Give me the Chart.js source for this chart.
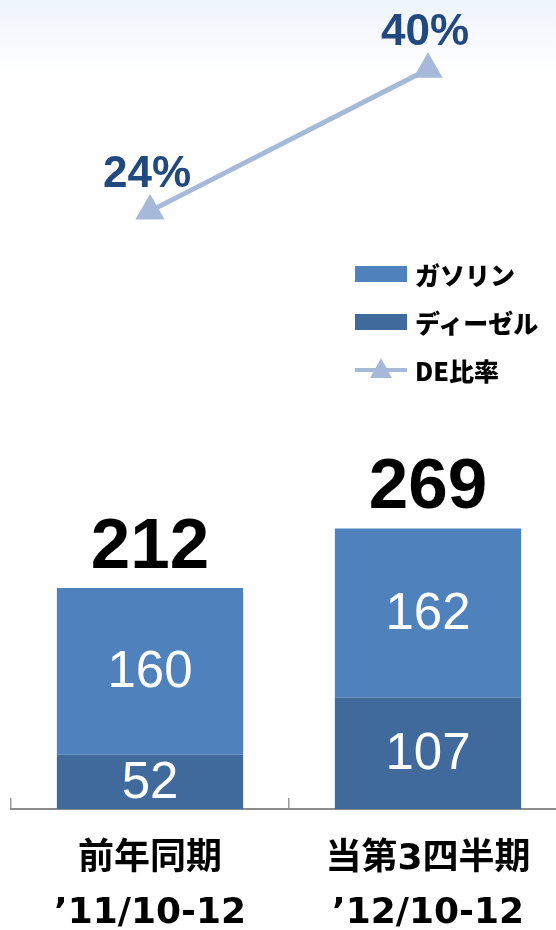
<!DOCTYPE html>
<html lang="ja">
<head>
<meta charset="utf-8">
<title>ガソリン・ディーゼル</title>
<script src="https://cdn.jsdelivr.net/npm/chart.js@4/dist/chart.umd.min.js"></script>
<style>
  html, body {
    margin: 0;
    padding: 0;
    width: 556px;
    height: 930px;
    overflow: hidden;
    background: linear-gradient(#eef4fc 0px, #ffffff 75px);
  }
  #wrap { position: relative; width: 570px; height: 930px; }
  #legend {
    position: absolute;
    left: 355px;
    top: 250px;
    font-family: "Noto Sans CJK JP", sans-serif;
    font-weight: 900;
    font-size: 25px;
    color: #000;
  }
  .row { display: flex; align-items: center; height: 48px; }
  .sw { width: 52px; height: 16px; margin-right: 8px; }
  .ln { position: relative; width: 52px; height: 16px; margin-right: 8px; }
  .ln::before {
    content: ""; position: absolute; left: 0; right: 0; top: 6px; height: 4px; background: #a7b9d9;
  }
  .ln::after {
    content: ""; position: absolute; left: 15px; top: -4px;
    border-left: 11px solid transparent; border-right: 11px solid transparent;
    border-bottom: 20px solid #a7b9d9;
  }
</style>
</head>
<body>
<div id="wrap">
  <canvas id="chart" width="570" height="930"></canvas>
  <div id="legend">
    <div class="row"><span class="sw" style="background:#4f81bd"></span>ガソリン</div>
    <div class="row"><span class="sw" style="background:#416a9c"></span>ディーゼル</div>
    <div class="row"><span class="ln"></span>DE比率</div>
  </div>
</div>
<script>
// --- data ---
const periods = [['前年同期', '’11/10-12'], ['当第3四半期', '’12/10-12']];
const gasoline = [160, 162];
const diesel = [52, 107];
const deRatio = [24, 40];

const GAS_COLOR = '#4f81bd';
const DIESEL_COLOR = '#416a9c';
const LINE_COLOR = '#a7b9d9';

// draws the numbers on the bars and above the line points
const valueLabels = {
  id: 'valueLabels',
  afterDatasetsDraw(chart) {
    const ctx = chart.ctx;
    ctx.save();
    ctx.textAlign = 'center';
    ctx.textBaseline = 'middle';

    // segment values (white, inside the bars)
    ctx.fillStyle = '#ffffff';
    ctx.font = '51px "Liberation Sans", Arial, sans-serif';
    [0, 1].forEach((di) => {
      const meta = chart.getDatasetMeta(di);
      meta.data.forEach((bar, i) => {
        const y = (bar.y + bar.base) / 2;
        ctx.fillText(chart.data.datasets[di].data[i], bar.x, y + 2);
      });
    });

    // totals above the stacks
    ctx.fillStyle = '#000000';
    ctx.font = 'bold 71px "Liberation Sans", Arial, sans-serif';
    chart.getDatasetMeta(1).data.forEach((bar, i) => {
      ctx.fillText(diesel[i] + gasoline[i], bar.x, bar.y - 40);
    });

    // ratio labels
    ctx.fillStyle = '#22497f';
    ctx.font = 'bold 44px "Liberation Sans", Arial, sans-serif';
    chart.getDatasetMeta(2).data.forEach((pt, i) => {
      ctx.fillText(deRatio[i] + '%', pt.x - 3, pt.y - 36);
    });
    ctx.restore();
  }
};

const ctx = document.getElementById('chart').getContext('2d');
const chart = new Chart(ctx, {
  data: {
    labels: periods,
    datasets: [
      {
        type: 'bar',
        label: 'ディーゼル',
        data: diesel,
        backgroundColor: DIESEL_COLOR,
        barPercentage: 0.67,
        categoryPercentage: 1,
        yAxisID: 'y',
        order: 2
      },
      {
        type: 'bar',
        label: 'ガソリン',
        data: gasoline,
        backgroundColor: GAS_COLOR,
        barPercentage: 0.67,
        categoryPercentage: 1,
        yAxisID: 'y',
        order: 2
      },
      {
        type: 'line',
        label: 'DE比率',
        data: deRatio,
        borderColor: LINE_COLOR,
        backgroundColor: LINE_COLOR,
        borderWidth: 5,
        pointStyle: 'triangle',
        pointRadius: 12,
        pointHoverRadius: 12,
        yAxisID: 'y1',
        order: 1
      }
    ]
  },
  options: {
    responsive: false,
    animation: false,
    layout: { autoPadding: false, padding: { left: 11, right: 3, top: 0, bottom: 0 } },
    plugins: {
      legend: { display: false },
      tooltip: { enabled: false }
    },
    scales: {
      x: {
        stacked: true,
        grid: {
          offset: true,
          drawOnChartArea: false,
          drawTicks: true,
          tickLength: -11,
          color: '#9a9a9a',
          lineWidth: 1.5
        },
        border: { display: true, color: '#8c8c8c', width: 2 },
        ticks: {
          color: '#000',
          padding: 35,
          maxRotation: 0,
          font: {
            family: '"DejaVu Sans", "Noto Sans CJK JP", sans-serif',
            size: 36,
            weight: 'bold',
            lineHeight: 1.5
          }
        },
        afterFit(scale) {
          scale.height = 121;
          scale.paddingLeft = 0;
          scale.paddingRight = 0;
          scale.paddingTop = 0;
          scale.paddingBottom = 0;
        }
      },
      y: {
        stacked: true,
        display: false,
        min: 0,
        max: 776
      },
      y1: {
        display: false,
        min: -43.4,
        max: 47.8
      }
    }
  },
  plugins: [valueLabels]
});
</script>
</body>
</html>
